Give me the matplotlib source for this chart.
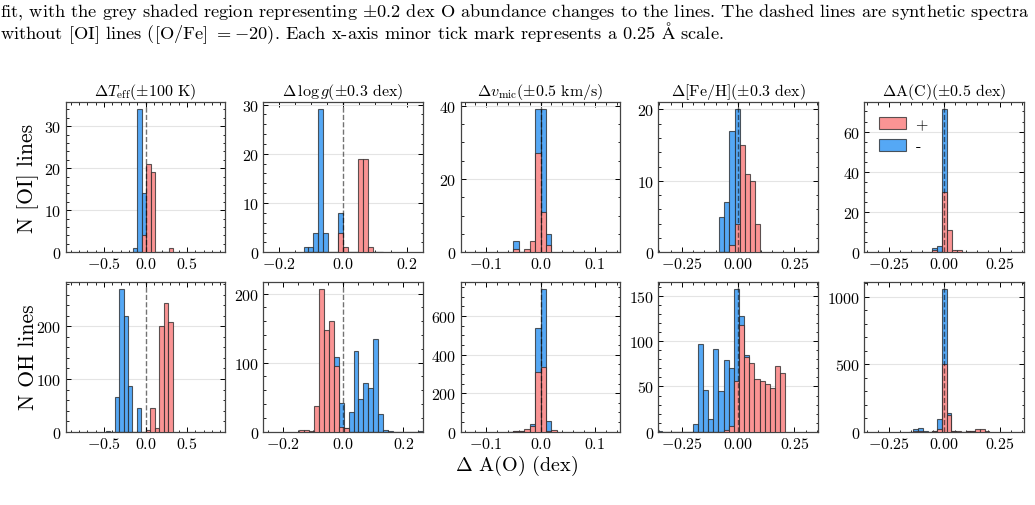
import numpy as np
import matplotlib
matplotlib.use("Agg")
import matplotlib.pyplot as plt
from matplotlib.ticker import MultipleLocator, AutoMinorLocator

plt.rcParams.update({
    "font.family": ["cmr10", "DejaVu Serif"],
    "mathtext.fontset": "cm",
    "axes.formatter.use_mathtext": True,
    "axes.unicode_minus": True,
    "xtick.direction": "in", "ytick.direction": "in",
    "xtick.top": True, "ytick.right": True,
    "xtick.minor.visible": True, "ytick.minor.visible": True,
    "xtick.major.size": 3.5, "ytick.major.size": 3.5,
    "xtick.minor.size": 1.8, "ytick.minor.size": 1.8,
    "xtick.major.width": 0.7, "ytick.major.width": 0.7,
    "xtick.minor.width": 0.6, "ytick.minor.width": 0.6,
    "axes.linewidth": 0.9,
    "axes.edgecolor": "#444444",
})

# ---------------- data (bin start, bin width, counts) ----------------
# Row 0: [OI] lines
TEFF_OI_START, TEFF_OI_WIDTH = -0.153, 0.054
TEFF_OI_MINUS = [1, 34, 14, 0, 0, 0, 0, 0, 0]
TEFF_OI_PLUS = [0, 0, 4, 21, 19, 0, 0, 0, 1]

LOGG_OI_START, LOGG_OI_WIDTH = -0.124, 0.0155
LOGG_OI_MINUS = [1, 1, 4, 29, 4, 0, 0, 8, 0, 0, 0, 0, 0, 0, 0, 0]
LOGG_OI_PLUS = [0, 0, 0, 0, 0, 0, 0, 4, 1, 0, 0, 19, 19, 1, 0, 0]

VMIC_OI_START, VMIC_OI_WIDTH = -0.05, 0.01
VMIC_OI_MINUS = [3, 0, 0, 0, 39, 39, 5]
VMIC_OI_PLUS = [1, 0, 1, 3, 27, 11, 2]

FEH_OI_START, FEH_OI_WIDTH = -0.085, 0.023
FEH_OI_MINUS = [5, 7, 17, 20, 0, 0, 0, 0]
FEH_OI_PLUS = [0, 0, 1, 4, 15, 11, 10, 4]

AC_OI_START, AC_OI_WIDTH = -0.0526, 0.0221
AC_OI_MINUS = [2, 3, 71, 0, 0, 0]
AC_OI_PLUS = [1, 0, 30, 11, 1, 1]

# Row 1: OH lines
TEFF_OH_START, TEFF_OH_WIDTH = -0.4796, 0.0538
TEFF_OH_MINUS = [1, 0, 65, 271, 219, 87, 0, 45, 0, 0, 0, 0, 0, 0, 0]
TEFF_OH_PLUS = [0, 0, 0, 0, 0, 0, 0, 0, 0, 3, 45, 7, 201, 245, 208]

LOGG_OH_START, LOGG_OH_WIDTH = -0.1471, 0.01652
LOGG_OH_MINUS = [0, 0, 0, 0, 0, 0, 0, 108, 42, 6, 29, 117, 48, 70, 63, 134, 26, 2, 1,
                 0, 0, 0, 0, 0, 1]
LOGG_OH_PLUS = [2, 2, 1, 37, 207, 147, 160, 95, 7, 5, 0, 0, 0, 0, 0, 0, 0, 0, 0,
                0, 0, 0, 0, 0, 0]

VMIC_OH_START, VMIC_OH_WIDTH = -0.06, 0.01
VMIC_OH_MINUS = [1, 2, 3, 5, 38, 540, 741, 53, 2]
VMIC_OH_PLUS = [1, 2, 3, 12, 28, 309, 336, 3, 7]

FEH_OH_START, FEH_OH_WIDTH = -0.3619, 0.02287
FEH_OH_MINUS = [1, 0, 0, 0, 0, 0, 0, 9, 97, 46, 14, 91, 45, 79, 70, 158, 128, 85,
                0, 0, 0, 0, 0, 0, 0]
FEH_OH_PLUS = [0, 0, 0, 0, 0, 0, 0, 0, 0, 0, 0, 0, 0, 2, 6, 56, 118, 83, 76, 58,
               56, 53, 48, 73, 65]

AC_OH_START, AC_OH_WIDTH = -0.16, 0.0214
AC_OH_MINUS = [1, 17, 25, 8, 0, 3, 96, 1059, 138, 4, 1, 1, 2, 3, 0, 0, 0]
AC_OH_PLUS = [0, 2, 3, 1, 0, 2, 20, 500, 123, 5, 2, 1, 2, 3, 22, 17, 3]

TITLES = [r"$\Delta T_{\rm eff}(\pm 100$ K)",
          r"$\Delta\,\log g(\pm 0.3$ dex)",
          r"$\Delta v_{\rm mic}(\pm 0.5$ km/s)",
          r"$\Delta$[Fe/H]($\pm$0.3 dex)",
          r"$\Delta$A(C)($\pm$0.5 dex)"]
ROW_LABELS = ["N [OI] lines", "N OH lines"]
XLABEL = r"$\Delta$ A(O) (dex)"
LEGEND_LABELS = ["+", "-"]
CAPTION_1 = (r"fit, with the grey shaded region representing $\pm$0.2 dex O abundance "
             r"changes to the lines. The dashed lines are synthetic spectra")
CAPTION_2 = (r"without [OI] lines ([O/Fe] $= -20$). Each x-axis minor tick mark "
             r"represents a 0.25 $\rm\AA$ scale.")

PANELS = [
    [(TEFF_OI_START, TEFF_OI_WIDTH, TEFF_OI_MINUS, TEFF_OI_PLUS),
     (LOGG_OI_START, LOGG_OI_WIDTH, LOGG_OI_MINUS, LOGG_OI_PLUS),
     (VMIC_OI_START, VMIC_OI_WIDTH, VMIC_OI_MINUS, VMIC_OI_PLUS),
     (FEH_OI_START, FEH_OI_WIDTH, FEH_OI_MINUS, FEH_OI_PLUS),
     (AC_OI_START, AC_OI_WIDTH, AC_OI_MINUS, AC_OI_PLUS)],
    [(TEFF_OH_START, TEFF_OH_WIDTH, TEFF_OH_MINUS, TEFF_OH_PLUS),
     (LOGG_OH_START, LOGG_OH_WIDTH, LOGG_OH_MINUS, LOGG_OH_PLUS),
     (VMIC_OH_START, VMIC_OH_WIDTH, VMIC_OH_MINUS, VMIC_OH_PLUS),
     (FEH_OH_START, FEH_OH_WIDTH, FEH_OH_MINUS, FEH_OH_PLUS),
     (AC_OH_START, AC_OH_WIDTH, AC_OH_MINUS, AC_OH_PLUS)],
]

XLIMS = [[0.96, 0.25, 0.147, 0.355, 0.36],
         [0.96, 0.265, 0.147, 0.355, 0.36]]
XMAJOR = [0.5, 0.2, 0.1, 0.25, 0.25]
YMAJOR = [[10, 10, 20, 10, 20], [100, 100, 200, 50, 500]]

BLUE = "#55A8F5"
RED = "#FA9494"
EDGE = (0.15, 0.15, 0.15, 0.75)

# ---------------- layout ----------------
W, H = 1035, 506
fig = plt.figure(figsize=(W / 100, H / 100), dpi=100)
col_left = [65.7, 263.3, 460.7, 658.3, 864.3]
ax_w = 159.6
row_top = [103.3, 282.7]
ax_h = 150.0

for r in range(2):
    for c in range(5):
        start, width, minus, plus = PANELS[r][c]
        n = len(minus)
        edges = start + width * np.arange(n + 1)
        centers = edges[:-1] + width / 2
        ax = fig.add_axes([col_left[c] / W, 1 - (row_top[r] + ax_h) / H,
                           ax_w / W, ax_h / H])
        ax.hist(centers, bins=edges, weights=minus, color=BLUE, edgecolor=EDGE,
                linewidth=0.8, label=LEGEND_LABELS[1], zorder=2)
        ax.hist(centers, bins=edges, weights=plus, color=RED, edgecolor=EDGE,
                linewidth=0.8, label=LEGEND_LABELS[0], zorder=3)
        ax.axvline(0, color="k", alpha=0.55, ls="--", lw=1.0, zorder=4)
        xl = XLIMS[r][c]
        ax.set_xlim(-xl, xl)
        ax.set_ylim(0, 1.05 * max(max(minus), max(plus)))
        ax.xaxis.set_major_locator(MultipleLocator(XMAJOR[c]))
        ax.yaxis.set_major_locator(MultipleLocator(YMAJOR[r][c]))
        ax.xaxis.set_minor_locator(AutoMinorLocator())
        ax.yaxis.set_minor_locator(AutoMinorLocator())
        ax.grid(axis="y", which="major", color="#e4e4e4", lw=0.8, zorder=0)
        ax.set_axisbelow(True)
        ax.tick_params(labelsize=11.5, pad=3)
        if r == 0:
            ax.set_title(TITLES[c], fontsize=11.5, pad=5)
        if r == 0 and c == 4:
            h, l = ax.get_legend_handles_labels()
            ax.legend(h[::-1], l[::-1], loc="upper left", frameon=False,
                      fontsize=11.5, handlelength=1.7, handleheight=0.8,
                      handletextpad=0.6, labelspacing=0.45,
                      borderaxespad=0.5)

fig.text(28 / W, 1 - 178 / H, ROW_LABELS[0], rotation=90, ha="center", va="center",
         fontsize=15.5)
fig.text(28 / W, 1 - 357 / H, ROW_LABELS[1], rotation=90, ha="center", va="center",
         fontsize=15.5)
fig.text(516 / W, 1 - 466 / H, XLABEL, ha="center", va="center", fontsize=14.5)

fig.text(0.0, 1 - 12 / H, CAPTION_1, ha="left", va="center", fontsize=13.2)
fig.text(0.0, 1 - 33 / H, CAPTION_2, ha="left", va="center", fontsize=13.2)

fig.savefig("out.png", dpi=100)
